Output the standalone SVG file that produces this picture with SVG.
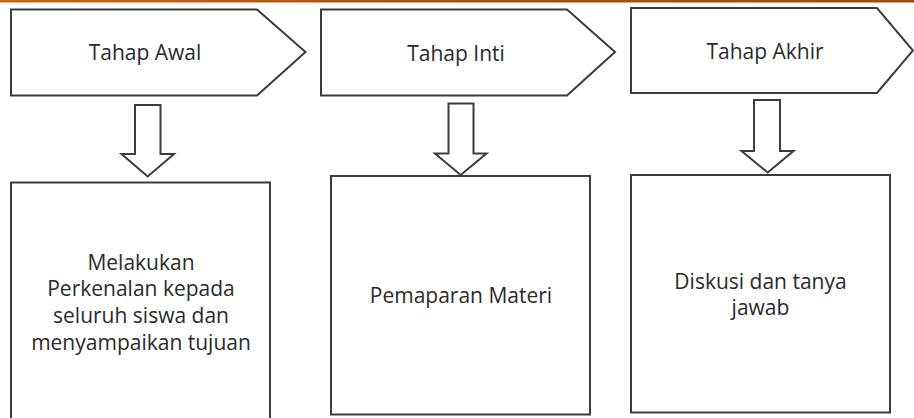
<svg xmlns="http://www.w3.org/2000/svg" width="914" height="418" viewBox="0 0 914 418">
<defs>
<linearGradient id="topline" x1="0" y1="0" x2="1" y2="0">
<stop offset="0" stop-color="#cc660c"/>
<stop offset="0.5" stop-color="#a4520f"/>
<stop offset="1" stop-color="#9c4c0e"/>
</linearGradient>
</defs>
<style>
.shape{fill:#ffffff;stroke:#3c3c3c;stroke-width:2}
.lbl{font-family:"Open Sans","Noto Sans","Liberation Sans",sans-serif;font-size:21px;fill:#2a2a2a;text-anchor:middle}
</style>
<rect x="0" y="0" width="914" height="418" fill="#ffffff"/>
<rect x="0" y="0" width="914" height="2.5" fill="url(#topline)"/>
<g id="tahap-awal">
<polygon class="shape" points="11,9.5 257,9.5 305.5,52 257,95.5 11,95.5"/>
<text class="lbl" x="145" y="60">Tahap Awal</text>
</g>
<g id="tahap-inti">
<polygon class="shape" points="321,9.5 567,9.5 615,52 567,95.5 321,95.5"/>
<text class="lbl" x="456" y="60.5">Tahap Inti</text>
</g>
<g id="tahap-akhir">
<polygon class="shape" points="631,8 877,8 913,50.5 877,93 631,93"/>
<text class="lbl" x="765" y="58.5">Tahap Akhir</text>
</g>
<g id="connectors">
<polygon class="shape" points="135,105 160.5,105 160.5,154 174,154 147.7,176.5 121.5,154 135,154"/>
<polygon class="shape" points="448.5,103.5 473.5,103.5 473.5,153.5 486.5,153.5 460.7,175 435,153.5 448.5,153.5"/>
<polygon class="shape" points="754,100 780,100 780,151 793.5,151 767.7,172.5 741.5,151 754,151"/>
</g>
<g id="box-awal">
<rect class="shape" x="11" y="182.5" width="259" height="240"/>
<text class="lbl" x="141" y="269.5">Melakukan</text>
<text class="lbl" x="141" y="296">Perkenalan kepada</text>
<text class="lbl" x="141" y="322.5">seluruh siswa dan</text>
<text class="lbl" x="141" y="349.5">menyampaikan tujuan</text>
</g>
<g id="box-inti">
<rect class="shape" x="331" y="176" width="259" height="238.5"/>
<text class="lbl" x="461" y="302.5">Pemaparan Materi</text>
</g>
<g id="box-akhir">
<rect class="shape" x="631" y="175" width="259" height="237.5"/>
<text class="lbl" x="760.5" y="288.5">Diskusi dan tanya</text>
<text class="lbl" x="760.5" y="314.5">jawab</text>
</g>
</svg>
